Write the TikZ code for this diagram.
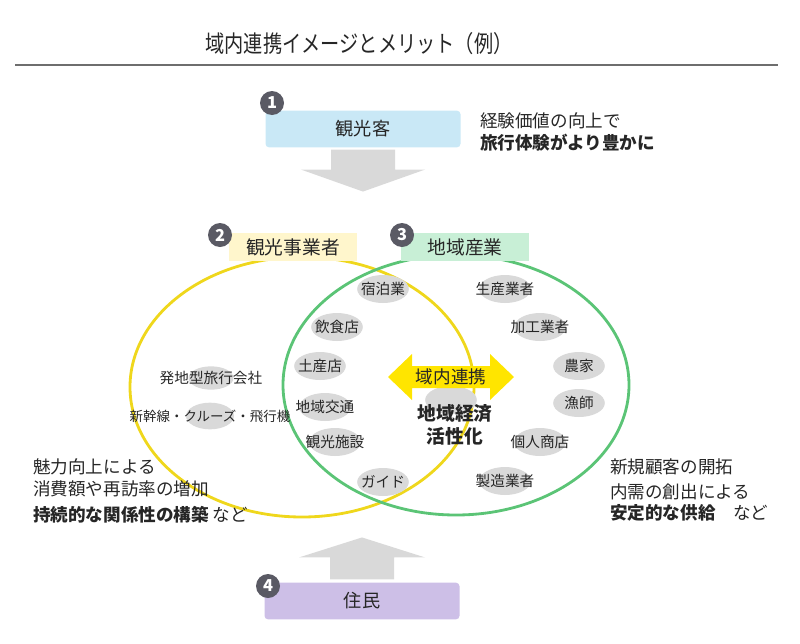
\documentclass[tikz,border=0pt]{standalone}
\usepackage{fontspec}
\setmainfont{Noto Sans CJK JP}
\newfontfamily\titlefont[FakeStretch=0.82]{Noto Sans CJK JP}
\usetikzlibrary{positioning,shapes.geometric}

\definecolor{textgray}{HTML}{262626}
\definecolor{rulegray}{HTML}{6E6E6E}
\definecolor{badgegray}{HTML}{5A5A64}
\definecolor{tourblue}{HTML}{C9E8F6}
\definecolor{residentpurple}{HTML}{CDBFE7}
\definecolor{ringyellow}{HTML}{EFD71C}
\definecolor{ringgreen}{HTML}{5BC476}
\definecolor{paleyellow}{HTML}{FFF6CC}
\definecolor{palegreen}{HTML}{C8EFD6}
\definecolor{chipgray}{HTML}{D9D9D9}
\definecolor{linkyellow}{HTML}{FFE500}

\begin{document}
\begin{tikzpicture}[x=0.3mm, y=-0.3mm,
    bodytext/.style={anchor=west, inner sep=0pt, text=textgray, font=\fontsize{15}{18}\selectfont},
    badge/.style={circle, fill=badgegray, text=white, inner sep=0pt, minimum size=7.2mm, font=\bfseries\fontsize{14}{14}\selectfont},
    actorbox/.style={rounded corners=3pt, inner sep=0pt, minimum width=58.5mm, minimum height=11mm, text=textgray, font=\fontsize{15.5}{18}\selectfont},
    groupbox/.style={inner sep=0pt, minimum width=38.2mm, minimum height=8.2mm, text=textgray, font=\fontsize{16}{18}\selectfont},
    chip/.style={ellipse, fill=chipgray, inner sep=0pt, minimum width=15.5mm, minimum height=8.4mm},
    every label/.style={inner sep=0pt, text=textgray, font=\fontsize{12.5}{14}\selectfont},
    ring/.style={line width=2.4pt},
    blockarrow/.style={fill=chipgray},
]
    \useasboundingbox (0,0) rectangle (800,643);
    % title
    \node[text=textgray, font=\titlefont\fontsize{20}{24}\selectfont] (title) at (359,44) {域内連携イメージとメリット（例）};
    \draw[rulegray, line width=1.3pt] (15,65) -- (778,65);
    % circles
    \draw[ring, ringyellow] (302,387) ellipse [x radius=172, y radius=130];
    \draw[ring, ringgreen]  (456,385) ellipse [x radius=173, y radius=130];
    % actors
    \node[actorbox, fill=tourblue]       (tourist)   at (363,129)  {観光客};
    \node[actorbox, fill=residentpurple] (resident)  at (362,601)  {住民};
    \node[badge]  (n1)  at (272,103)  {1};
    \node[badge]  (n4)  at (268,586)  {4};
    \node[bodytext]  (touristA)  at (480,121)  {経験価値の向上で};
    \node[bodytext]  (touristB)  at (480,143)  {\bfseries 旅行体験がより豊かに};
    % arrows
    \fill[blockarrow, shift={(tourist.south)}] (-32,2) -- (32,2) -- (32,22) -- (62,22) -- (0,44) -- (-62,22) -- (-32,22) -- cycle;
    \fill[blockarrow, shift={(resident.north)}] (-32,-3) -- (32,-3) -- (32,-25) -- (63,-25) -- (0,-45) -- (-63,-25) -- (-32,-25) -- cycle;
    % groups
    \node[groupbox, fill=paleyellow]  (tourism)   at (293,247)  {観光事業者};
    \node[groupbox, fill=palegreen]   (industry)  at (465,247)  {地域産業};
    \node[badge]  (n2)  at (220,235)  {2};
    \node[badge]  (n3)  at (402,235)  {3};
    % members
    \node[chip, label={center:宿泊業}]    (stay)      at (383,289)  {};
    \node[chip, label={center:飲食店}]    (food)      at (337,327)  {};
    \node[chip, label={center:土産店}]    (souvenir)  at (320,366)  {};
    \node[chip, label={center:地域交通}]  (transit)   at (325,407)  {};
    \node[chip, label={center:観光施設}]  (sights)    at (335,442)  {};
    \node[chip, label={center:ガイド}]    (guide)     at (383,482)  {};
    \node[chip, minimum width=13.5mm, minimum height=7mm, label={center:発地型旅行会社}]  (agency)  at (211,378)  {};
    \node[chip, minimum width=14.4mm, minimum height=8mm, label={center:\fontsize{11.5}{14}\selectfont 新幹線・クルーズ・飛行機}]  (carrier)  at (210,416)  {};
    \node[chip, label={center:生産業者}]  (producer)   at (505,289)  {};
    \node[chip, label={center:加工業者}]  (processor)  at (540,327)  {};
    \node[chip, label={center:農家}]      (farmer)     at (579,366)  {};
    \node[chip, label={center:漁師}]      (fisher)     at (579,403)  {};
    \node[chip, label={center:個人商店}]  (shop)       at (540,442)  {};
    \node[chip, label={center:製造業者}]  (maker)      at (505,481)  {};
    % link
    \node[chip] (hidden) at (451,400) {};
    \coordinate (linkc) at (451,377);
    \fill[linkyellow, shift={(linkc)}] (-63,0) -- (-39,-23) -- (-39,-11) -- (39,-11) -- (39,-23) -- (63,0) -- (39,23) -- (39,11) -- (-39,11) -- (-39,23) -- cycle;
    \node[inner sep=0pt, text=textgray, font=\fontsize{15}{18}\selectfont] (link) at (linkc) {域内連携};
    \node[inner sep=0pt, align=center, text=textgray, font=\bfseries\fontsize{16}{19.6}\selectfont] (economy) at (455,425) {地域経済\\活性化};
    % merits
    \node[bodytext]  (tourismA)  at (33,467)  {魅力向上による};
    \node[bodytext]  (tourismB)  at (33,489)  {消費額や再訪率の増加};
    \node[bodytext]  (tourismC)  at (33,515)  {\textbf{持続的な関係性の構築} など};
    \node[bodytext]  (industryA) at (610,467) {新規顧客の開拓};
    \node[bodytext]  (industryB) at (610,492) {内需の創出による};
    \node[bodytext]  (industryC) at (610,513) {\textbf{安定的な供給}\quad など};
\end{tikzpicture}
\end{document}
